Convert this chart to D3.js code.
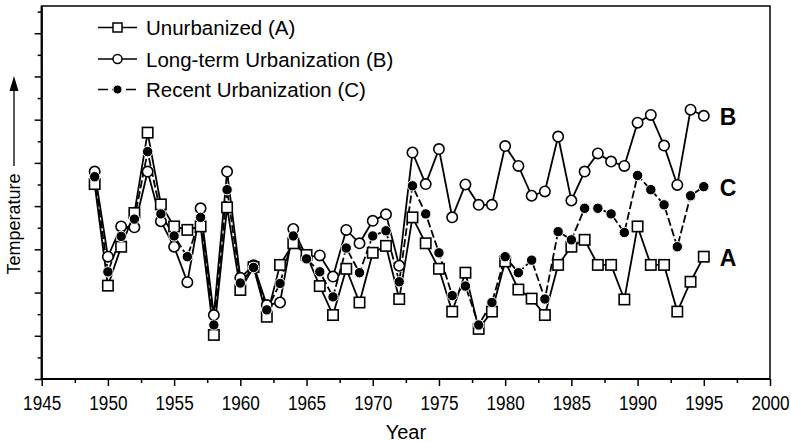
<!DOCTYPE html>
<html>
<head>
<meta charset="utf-8">
<script src="https://cdn.jsdelivr.net/npm/d3@7"></script>
<style>
  body { margin: 0; background: #fff; overflow: hidden; }
  text { font-family: "Liberation Sans", Arial, sans-serif; fill: #000; }
</style>
</head>
<body>
<script>
'use strict';

// Data =============================================

var years = [1949, 1950, 1951, 1952, 1953, 1954, 1955, 1956, 1957, 1958,
  1959, 1960, 1961, 1962, 1963, 1964, 1965, 1966, 1967, 1968,
  1969, 1970, 1971, 1972, 1973, 1974, 1975, 1976, 1977, 1978,
  1979, 1980, 1981, 1982, 1983, 1984, 1985, 1986, 1987, 1988,
  1989, 1990, 1991, 1992, 1993, 1994, 1995];

// Unurbanized (A) - squares
var unurbanized = [4.51, 2.16, 3.06, 3.84, 5.70, 4.04, 3.53, 3.45, 3.53, 1.02,
  3.97, 2.06, 2.59, 1.44, 2.64, 3.14, 2.87, 2.15, 1.48, 2.55,
  1.77, 2.92, 3.08, 1.85, 3.74, 3.14, 2.55, 1.56, 2.46, 1.16,
  1.56, 2.72, 2.07, 1.86, 1.48, 2.64, 3.06, 3.22, 2.64, 2.64,
  1.84, 3.53, 2.64, 2.64, 1.56, 2.25, 2.83];

// Long-term Urbanization (B) - open circles
var longTerm = [4.80, 2.83, 3.53, 3.51, 4.80, 3.65, 3.06, 2.24, 3.95, 1.48,
  4.80, 2.34, 2.63, 1.71, 1.77, 3.47, 2.82, 2.86, 2.37, 3.45,
  3.14, 3.66, 3.81, 2.62, 5.24, 4.51, 5.32, 3.74, 4.50, 4.03,
  4.03, 5.39, 4.93, 4.24, 4.34, 5.61, 4.13, 4.80, 5.22, 5.03,
  4.93, 5.93, 6.11, 5.40, 4.49, 6.23, 6.09];

// Recent Urbanization (C) - filled circles
var recent = [4.68, 2.48, 3.30, 3.70, 5.26, 3.82, 3.31, 2.83, 3.74, 1.25,
  4.38, 2.22, 2.58, 1.60, 2.21, 3.31, 2.78, 2.48, 1.90, 3.03,
  2.46, 3.31, 3.43, 2.25, 4.47, 3.82, 2.92, 1.93, 2.15, 1.25,
  1.77, 2.83, 2.46, 2.75, 1.85, 3.41, 3.22, 3.95, 3.95, 3.82,
  3.39, 4.71, 4.38, 4.03, 3.06, 4.24, 4.45];

var xMajorTicks = [1945, 1950, 1955, 1960, 1965, 1970, 1975, 1980, 1985, 1990, 1995, 2000];
var xMinorTicks = [1947.5, 1952.5, 1957.5, 1962.5, 1967.5, 1972.5, 1977.5, 1982.5, 1987.5, 1992.5, 1997.5];
var yMajorTicks = [0, 1, 2, 3, 4, 5, 6, 7, 8];
var yMinorTicks = [0.5, 1.5, 2.5, 3.5, 4.5, 5.5, 6.5, 7.5, 8.5];

var seriesNames = ['Unurbanized (A)', 'Long-term Urbanization (B)', 'Recent Urbanization (C)'];
var seriesTags = ['A', 'B', 'C'];

//Sizing things.
var width = 791;
var height = 442;
var plotLeft = 41.7, plotRight = 770, plotTop = 6, plotBottom = 379;

var svg = d3.select('body').append('svg')
    .attr('width', width)
    .attr('height', height);

var x = d3.scaleLinear().domain([1945, 2000]).range([plotLeft, plotRight]);
var y = d3.scaleLinear().domain([0, 8.63]).range([plotBottom, plotTop]);

// frame box
svg.append('rect')
  .attr('x', plotLeft).attr('y', plotTop)
  .attr('width', plotRight - plotLeft).attr('height', plotBottom - plotTop)
  .attr('fill', 'none')
  .attr('stroke', '#000')
  .attr('stroke-width', 1.5);

// axes ========================================
function styleAxis(g, w) {
  g.select('.domain').remove();
  g.selectAll('.tick line').attr('stroke', '#000').attr('stroke-width', w);
}

svg.append('g')
  .attr('transform', 'translate(0,' + plotBottom + ')')
  .call(d3.axisBottom(x).tickValues(xMinorTicks).tickSize(4).tickFormat(''))
  .call(styleAxis, 1.5);

var xAxis = svg.append('g')
  .attr('transform', 'translate(0,' + plotBottom + ')')
  .call(d3.axisBottom(x).tickValues(xMajorTicks).tickSize(7).tickPadding(10).tickFormat(d3.format('d')))
  .call(styleAxis, 1.5);

// tick labels are a bit condensed in the original, squeeze them sideways
xAxis.selectAll('text')
  .style('font-size', '19.5px')
  .style('font-family', '"Liberation Sans", Arial, sans-serif')
  .attr('transform', 'scale(0.88,1)');

svg.append('g')
  .attr('transform', 'translate(' + plotLeft + ',0)')
  .call(d3.axisLeft(y).tickValues(yMinorTicks.filter(function (d) { return y(d) > plotTop; })).tickSize(4).tickFormat(''))
  .call(styleAxis, 1.5);

svg.append('g')
  .attr('transform', 'translate(' + plotLeft + ',0)')
  .call(d3.axisLeft(y).tickValues(yMajorTicks).tickSize(7).tickFormat(''))
  .call(styleAxis, 1.5);

// heavier left and bottom axis lines
svg.append('line')
  .attr('x1', plotLeft).attr('x2', plotLeft).attr('y1', plotTop).attr('y2', plotBottom)
  .attr('stroke', '#000').attr('stroke-width', 2.2);
svg.append('line')
  .attr('x1', plotLeft - 1).attr('x2', plotRight).attr('y1', plotBottom).attr('y2', plotBottom)
  .attr('stroke', '#000').attr('stroke-width', 2.2);

// axis titles
svg.append('text')
  .attr('x', (plotLeft + plotRight) / 2)
  .attr('y', 439)
  .attr('text-anchor', 'middle')
  .style('font-size', '20px')
  .text('Year');

svg.append('text')
  .attr('transform', 'translate(20,224) rotate(-90)')
  .attr('text-anchor', 'middle')
  .style('font-size', '18px')
  .text('Temperature');

// arrow next to Temperature
svg.append('line')
  .attr('x1', 14).attr('x2', 14).attr('y1', 166).attr('y2', 90)
  .attr('stroke', '#000').attr('stroke-width', 1.3);
svg.append('path')
  .attr('d', 'M14,76 L9.5,91 L18.5,91 Z')
  .attr('fill', '#000');

// lines ========================================
var allSeries = [unurbanized, longTerm, recent];

var line = d3.line()
  .x(function (d, i) { return x(years[i]); })
  .y(function (d) { return y(d); });

allSeries.forEach(function (vals, k) {
  svg.append('path')
    .datum(vals)
    .attr('d', line)
    .attr('fill', 'none')
    .attr('stroke', '#000')
    .attr('stroke-width', 1.8)
    .attr('stroke-dasharray', k === 2 ? '8,3' : null);
});

// markers - open circles (B), squares (A), filled dots (C)
svg.append('g').selectAll('circle')
  .data(longTerm)
  .enter().append('circle')
  .attr('cx', function (d, i) { return x(years[i]); })
  .attr('cy', function (d) { return y(d); })
  .attr('r', 5.2)
  .attr('fill', '#fff')
  .attr('stroke', '#000')
  .attr('stroke-width', 1.6);

svg.append('g').selectAll('rect')
  .data(unurbanized)
  .enter().append('rect')
  .attr('x', function (d, i) { return x(years[i]) - 5.2; })
  .attr('y', function (d) { return y(d) - 5.2; })
  .attr('width', 10.4).attr('height', 10.4)
  .attr('fill', '#fff')
  .attr('stroke', '#000')
  .attr('stroke-width', 1.6);

svg.append('g').selectAll('circle')
  .data(recent)
  .enter().append('circle')
  .attr('cx', function (d, i) { return x(years[i]); })
  .attr('cy', function (d) { return y(d); })
  .attr('r', 5.2)
  .attr('fill', '#000')
  .attr('stroke', '#fff')
  .attr('stroke-width', 1);

// series tags at the right end
var lastIdx = years.length - 1;
seriesTags.forEach(function (t, k) {
  svg.append('text')
    .attr('x', x(years[lastIdx]) + 16)
    .attr('y', y(allSeries[k][lastIdx]) + 9)
    .style('font-size', '23px')
    .style('font-weight', 'bold')
    .text(t);
});

// legend ========================================
var legendRows = [27.5, 59, 89.5];

seriesNames.forEach(function (name, k) {
  var ly = legendRows[k];
  var lg = svg.append('g');
  lg.append('line')
    .attr('x1', 98).attr('x2', 137).attr('y1', ly).attr('y2', ly)
    .attr('stroke', '#000').attr('stroke-width', 1.7)
    .attr('stroke-dasharray', k === 2 ? '10,4' : null);
  if (k === 0) {
    lg.append('rect')
      .attr('x', 113).attr('y', ly - 4.5).attr('width', 9).attr('height', 9)
      .attr('fill', '#fff').attr('stroke', '#000').attr('stroke-width', 1.5);
  } else if (k === 1) {
    lg.append('circle')
      .attr('cx', 117.5).attr('cy', ly).attr('r', 4.5)
      .attr('fill', '#fff').attr('stroke', '#000').attr('stroke-width', 1.5);
  } else {
    lg.append('circle')
      .attr('cx', 117.5).attr('cy', ly).attr('r', 4.5)
      .attr('fill', '#000').attr('stroke', '#fff').attr('stroke-width', 1);
  }
  lg.append('text')
    .attr('x', 146)
    .attr('y', ly + 7.5)
    .style('font-size', '20.5px')
    .text(name);
});
</script>
</body>
</html>
